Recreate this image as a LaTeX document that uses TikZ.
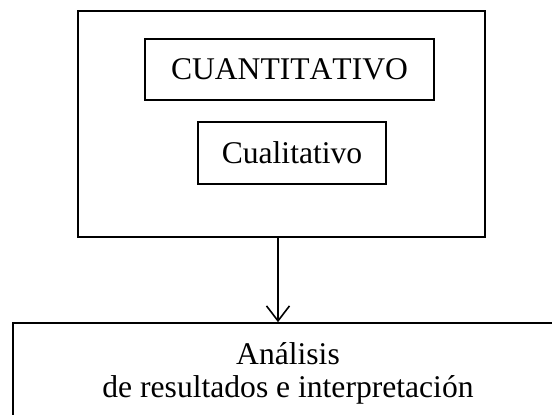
\documentclass[tikz,border=0pt]{standalone}
\usepackage{fontspec}
\setmainfont[Kerning=Off]{Liberation Serif}
\usetikzlibrary{arrows.meta}
\begin{document}
\begin{tikzpicture}[x=1pt,y=-1pt,
  box/.style={draw,line width=1.6pt,rectangle,inner sep=0pt,font=\fontsize{31.6}{33}\selectfont,align=center},
  link/.style={line width=1.6pt,-{Straight Barb[length=15pt,width=23pt,line width=1.6pt]}}]
\useasboundingbox[fill=white] (0,0) rectangle (552,415);
\node[box,minimum width=407pt,minimum height=226pt] (outer) at (281.5,124) {};
\node[box,minimum width=289pt,minimum height=61pt] (cuan) at (289.5,69.5) {CUANTITATIVO};
\node[box,minimum width=188pt,minimum height=62pt] (cual) at (292,153) {Cualitativo};
\node[box,minimum width=550pt,minimum height=100pt] (anal) at (288,373) {Análisis\\de resultados e interpretación};
\draw[link] ([xshift=-3.5pt]outer.south) -- ([xshift=-10pt]anal.north);
\end{tikzpicture}
\end{document}
